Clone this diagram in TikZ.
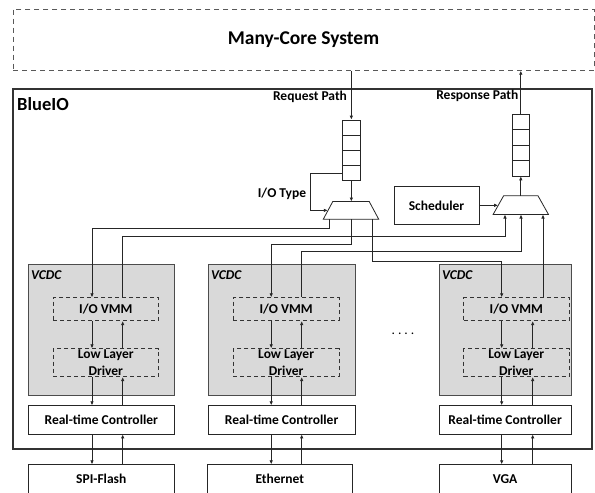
\documentclass[tikz,border=0pt]{standalone}
\usepackage{fontspec}
\setmainfont{Carlito}
\usetikzlibrary{arrows.meta}

\begin{document}
\begin{tikzpicture}[x=1pt,y=-1pt,
  every node/.style={font=\fontsize{13.5}{16}\selectfont\bfseries, inner sep=0pt},
  wire/.style={draw=black!85, line width=0.8pt},
  arr/.style={wire, -{Latex[length=4pt,width=3.6pt]}},
  box/.style={draw=black!85, line width=0.8pt, fill=white},
  sysbox/.style={draw=black!65, line width=0.8pt, dash pattern=on 5pt off 4pt},
  frame/.style={draw=black!80, line width=2pt},
  vcdc/.style={draw=black!70, line width=0.8pt, fill=black!15},
  dbox/.style={draw=black!80, line width=0.8pt, dash pattern=on 4pt off 3pt},
  cell/.style={draw=black!85, line width=0.8pt, fill=white, minimum width=17.3pt},
  muxarea/.style={minimum width=55pt},
  muxline/.style={draw=black!85, line width=0.8pt, fill=white, line join=miter},
]
\useasboundingbox (0,0) rectangle (595,493);

% many-core system and the BlueIO frame
\node[sysbox, minimum width=581pt, minimum height=61.3pt,
      font=\fontsize{19.5}{22}\selectfont\bfseries] (mcs) at (303.5,39.65) {Many-Core System};
\node[frame, minimum width=579pt, minimum height=360pt] (blueio) at (302.8,268.5) {};
\node[anchor=west, font=\fontsize{18.5}{20}\selectfont\bfseries] (bluelbl) at (17,104) {BlueIO};

% request and response queues
\foreach \i/\y in {1/127.6,2/142.8,3/158.0,4/173.2}
  \node[cell, minimum height=15.2pt] (rq\i) at (351.35,\y) {};
\foreach \i/\y in {1/122,2/137.4,3/152.8,4/168.2}
  \node[cell, minimum height=15.4pt] (sq\i) at (520.8,\y) {};

% multiplexers (trapezoids, narrow side up) and scheduler
\node[muxarea, minimum height=17.3pt] (reqmux) at (351,210.35) {};
\draw[muxline] (reqmux.south west) -- ([xshift=9.5pt]reqmux.north west)
  -- ([xshift=-9.5pt]reqmux.north east) -- (reqmux.south east) -- cycle;
\node[muxarea, minimum height=18.3pt] (rspmux) at (520.8,205.15) {};
\draw[muxline] (rspmux.south west) -- ([xshift=10.5pt]rspmux.north west)
  -- ([xshift=-10.5pt]rspmux.north east) -- (rspmux.south east) -- cycle;
\node[box, minimum width=85pt, minimum height=37.3pt] (sched) at (436.5,205.35) {Scheduler};

\node (reqlbl) at (310,96.7) {Request Path};
\node (rsplbl) at (477.3,95.7) {Response Path};
\node (iotype) at (282,194) {I/O Type};

% top-level paths
\draw[arr] (mcs.south -| rq1.north) -- (rq1.north);
\draw[arr] (rq4.south) -- (rq4.south |- reqmux.north);
\draw[arr] (rq4.west) -- ++(-32.4,0) |- ([xshift=4.5pt]reqmux.west);
\draw[arr] (sq1.north) -- (sq1.north |- mcs.south);
\draw[arr] (rspmux.north) -- (sq4.south);
\draw[arr] (sched.east) -- ([xshift=5pt]rspmux.west |- sched.east);

% virtual device controllers
\foreach \n/\cx/\w/\vx in {1/101.3/146/105.8, 2/281.65/146.7/286.15, 3/505.15/131.7/516.3} {
  \node[vcdc, minimum width=\w pt, minimum height=131.7pt] (vcdc\n) at (\cx,329.85) {};
  \node[anchor=west, font=\fontsize{13.5}{16}\selectfont\bfseries\itshape] (vlbl\n)
    at ([xshift=3pt]vcdc\n.west |- 0,275) {VCDC};
  \node[dbox, minimum width=105.5pt, minimum height=23pt] (vmm\n) at (\vx,309.2) {I/O VMM};
  \node[dbox, minimum width=105.5pt, minimum height=28pt] (drv\n) at (\vx,362.7) {};
  \node[align=center, font=\fontsize{13.5}{16.4}\selectfont\bfseries] (drvt\n) at (drv\n) {Low Layer\\Driver};
  \node[box, minimum width=\w pt, minimum height=28.3pt] (rtc\n) at (\cx,419.85) {Real-time Controller};
}
\node[box, minimum width=146pt, minimum height=29.2pt] (dev1) at (101.3,479.3) {SPI-Flash};
\node[box, minimum width=145pt, minimum height=29.2pt] (dev2) at (279.8,479.3) {Ethernet};
\node[box, minimum width=131.7pt, minimum height=29.2pt] (dev3) at (505.15,479.3) {VGA};

\node[anchor=base, font=\fontsize{13.5}{16}\selectfont] (dots) at (403,334.5)
  {.\kern3pt.\kern3pt.\kern3pt.};

% columns of the vertical links
\coordinate (dn1) at (92,0);    \coordinate (up1) at (122.7,0);
\coordinate (dn2) at (271.2,0); \coordinate (up2) at (301.7,0);
\coordinate (dn3) at (501.7,0); \coordinate (up3) at (532.7,0);
\coordinate (ux3) at (543,0);

\foreach \n in {1,2,3} {
  \draw[arr] (vmm\n.south -| dn\n) -- (drv\n.north -| dn\n);
  \draw[arr] (drv\n.south -| dn\n) -- (rtc\n.north -| dn\n);
  \draw[arr] (rtc\n.south -| dn\n) -- (dev\n.north -| dn\n);
  \draw[arr] (drv\n.north -| up\n) -- (vmm\n.south -| up\n);
  \draw[arr] (rtc\n.north -| up\n) -- (drv\n.south -| up\n);
  \draw[arr] (dev\n.north -| up\n) -- (rtc\n.south -| up\n);
}

% request multiplexer to the controllers
\draw[arr] ([xshift=-21.7pt]reqmux.south) -- ++(0,8.7) -| (vmm1.north -| dn1);
\draw[arr] ([xshift=0.7pt]reqmux.south) -- ++(0,25.3) -| (vmm2.north -| dn2);
\draw[arr] ([xshift=21.3pt]reqmux.south) -- ++(0,41.7) -| (vmm3.north -| dn3);

% controllers to the response multiplexer
\draw[arr] (vmm1.north -| up1) -- ++(0,-61) -| ([xshift=-15.8pt]rspmux.south);
\draw[arr] (vmm2.north -| up2) -- ++(0,-46) -| ([xshift=0.2pt]rspmux.south);
\draw[arr] (vmm3.north -| ux3) -- (rspmux.south -| ux3);
\end{tikzpicture}
\end{document}
